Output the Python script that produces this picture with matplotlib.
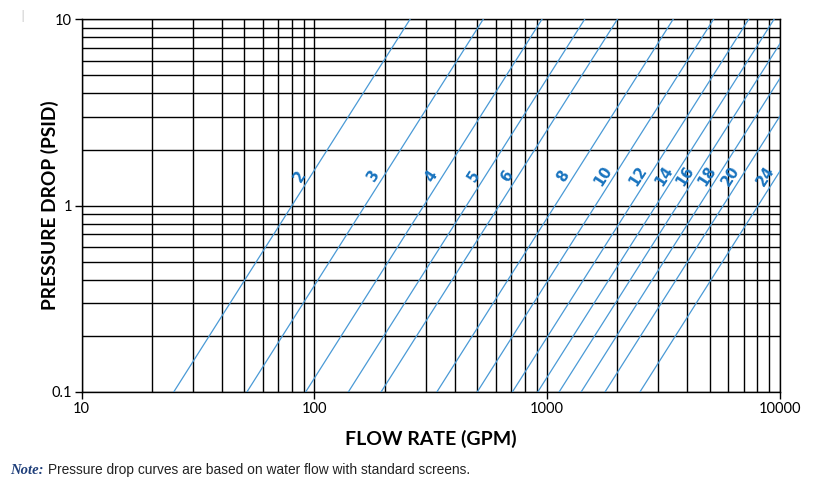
import numpy as np
import matplotlib
matplotlib.use("Agg")
import matplotlib.pyplot as plt
from matplotlib.ticker import LogLocator, NullFormatter

# ---- data ----
sizes = ["2", "3", "4", "5", "6", "8", "10", "12", "14", "16", "18", "20", "24"]
flow_at_1psid = [80, 165, 295, 450, 622, 1080, 1610, 2280, 2930, 3620, 4500, 5700, 8050]
exponent = 1.97          # pressure drop ~ flow ** exponent
label_psid = 1.44        # height at which size labels sit

x_ticks = [10, 100, 1000, 10000]
x_ticklabels = ["10", "100", "1000", "10000"]
y_ticks = [0.1, 1, 10]
y_ticklabels = ["0.1", "1", "10"]

line_color = "#4a9ad6"
label_color = "#1a74bf"

fig = plt.figure(figsize=(8.24, 4.94), dpi=100)
ax = fig.add_axes([0.0991, 0.2065, 0.8475, 0.7545])
ax.set_xscale("log")
ax.set_yscale("log")
ax.set_xlim(10, 10000)
ax.set_ylim(0.1, 10)

# grid
ax.xaxis.set_minor_locator(LogLocator(base=10, subs=np.arange(2, 10)))
ax.yaxis.set_minor_locator(LogLocator(base=10, subs=np.arange(2, 10)))
ax.xaxis.set_minor_formatter(NullFormatter())
ax.yaxis.set_minor_formatter(NullFormatter())
ax.grid(True, which="both", color="black", linewidth=1.0)
ax.set_axisbelow(True)
for s in ax.spines.values():
    s.set_color("black")
    s.set_linewidth(1.0)

ax.set_xticks(x_ticks)
ax.set_xticklabels(x_ticklabels)
ax.set_yticks(y_ticks)
ax.set_yticklabels(y_ticklabels)
ax.tick_params(which="major", length=5, width=1, direction="out", labelsize=10.5,
               colors="black", pad=2)
ax.tick_params(which="minor", length=0)
for t in ax.get_xticklabels() + ax.get_yticklabels():
    t.set_family(["Lato", "DejaVu Sans"])

q = np.logspace(1, 4, 400)
for name, q1 in zip(sizes, flow_at_1psid):
    p = (q / q1) ** exponent
    ax.plot(q, p, color=line_color, linewidth=0.9, zorder=3)
    ql = q1 * label_psid ** (1.0 / exponent)
    ax.annotate(name, xy=(ql, label_psid), xytext=(-11, 0), textcoords="offset pixels",
                ha="center", va="center", rotation=57, color=label_color,
                fontsize=10.5, fontweight="bold", family=["DejaVu Sans"],
                zorder=4)

ax.set_xlabel("FLOW RATE (GPM)", fontsize=14, fontweight="bold",
              family=["Lato", "DejaVu Sans"], labelpad=10)
ax.set_ylabel("PRESSURE DROP (PSID)", fontsize=13.8, fontweight="bold",
              family=["Lato", "DejaVu Sans"])
ax.yaxis.set_label_coords(-0.032, 0.5)

fig.text(10 / 824, 1 - 470 / 494, "Note:", fontsize=10.5, fontstyle="italic",
         fontweight="bold", color="#1f3f7a", family=["Liberation Serif", "DejaVu Serif"],
         va="center", ha="left")
fig.text(48 / 824, 1 - 470 / 494,
         "Pressure drop curves are based on water flow with standard screens.",
         fontsize=9.9, color="#222222",
         family=["Liberation Sans Narrow", "Liberation Sans", "DejaVu Sans"],
         va="center", ha="left")
fig.text(23 / 824, 1 - 18 / 494, "I", fontsize=11, color="#dddddd",
         va="center", ha="center")

fig.savefig("out.png", dpi=100)
